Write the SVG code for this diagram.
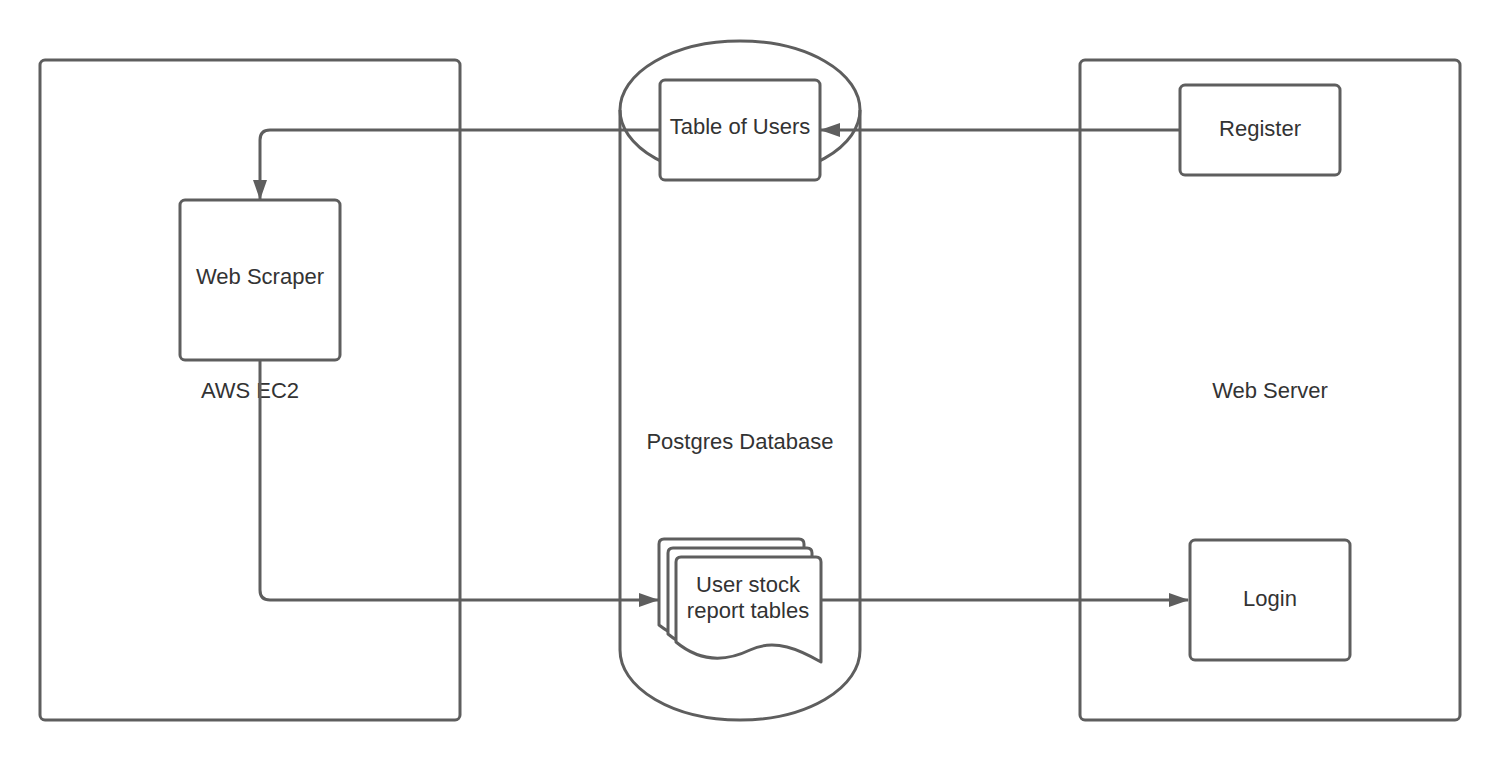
<svg xmlns="http://www.w3.org/2000/svg" width="1500" height="760" viewBox="0 0 1500 760">
<defs>
<style>
.s{fill:#ffffff;stroke:#5e5e5e;stroke-width:3;stroke-linejoin:round}
.c{fill:none;stroke:#5e5e5e;stroke-width:3;stroke-linejoin:round}
.t{font-family:"Liberation Sans",Arial,sans-serif;font-size:22px;fill:#333333;text-anchor:middle}
</style>
<marker id="ah" viewBox="0 0 20 14" refX="19" refY="7" markerWidth="20" markerHeight="14" markerUnits="userSpaceOnUse" orient="auto">
<path d="M0,0 L20,7 L0,14 Z" fill="#5e5e5e"/>
</marker>
</defs>
<rect width="1500" height="760" fill="#ffffff"/>
<g id="aws-ec2">
<rect class="s" x="40" y="60" width="420" height="660" rx="5"/>
<text class="t" x="250" y="398">AWS EC2</text>
</g>
<g id="web-server">
<rect class="s" x="1080" y="60" width="380" height="660" rx="5"/>
<text class="t" x="1270" y="398">Web Server</text>
</g>
<g id="postgres">
<path class="s" d="M620,110 A120,69 0 0 1 860,110 L860,650 A120,70 0 0 1 620,650 Z"/>
<path class="c" d="M620,110 A120,68 0 0 0 860,110"/>
<text class="t" x="740" y="449">Postgres Database</text>
</g>
<g id="connectors">
<path class="c" d="M660,130 L270,130 Q260,130 260,140 L260,199" marker-end="url(#ah)"/>
<path class="c" d="M1180,130 L821,130" marker-end="url(#ah)"/>
<path class="c" d="M260,360 L260,590 Q260,600 270,600 L658,600" marker-end="url(#ah)"/>
<path class="c" d="M821,600 L1188,600" marker-end="url(#ah)"/>
</g>
<g id="table-of-users">
<rect class="s" x="660" y="80" width="160" height="100" rx="5"/>
<text class="t" x="740" y="134">Table of Users</text>
</g>
<g id="register">
<rect class="s" x="1180" y="85" width="160" height="90" rx="5"/>
<text class="t" x="1260" y="136">Register</text>
</g>
<g id="web-scraper">
<rect class="s" x="180" y="200" width="160" height="160" rx="5"/>
<text class="t" x="260" y="284">Web Scraper</text>
</g>
<g id="login">
<rect class="s" x="1190" y="540" width="160" height="120" rx="5"/>
<text class="t" x="1270" y="606">Login</text>
</g>
<g id="user-stock-report-tables">
<path class="s" d="M659,625 L659,544 Q659,539 664,539 L799,539 Q804,539 804,544 L804,644 C783,632 758,620 733,632 C708,644 683,644 659,625 Z"/>
<path class="s" d="M668,634 L668,553 Q668,548 673,548 L807,548 Q812,548 812,553 L812,653 C791,641 766,629 741,641 C716,653 691,653 668,634 Z"/>
<path class="s" d="M676,642 L676,562 Q676,557 681,557 L816,557 Q821,557 821,562 L821,662 C800,650 775,638 750,650 C725,662 700,662 676,642 Z"/>
<text class="t" x="748" y="592">User stock</text>
<text class="t" x="748" y="618">report tables</text>
</g>
</svg>
